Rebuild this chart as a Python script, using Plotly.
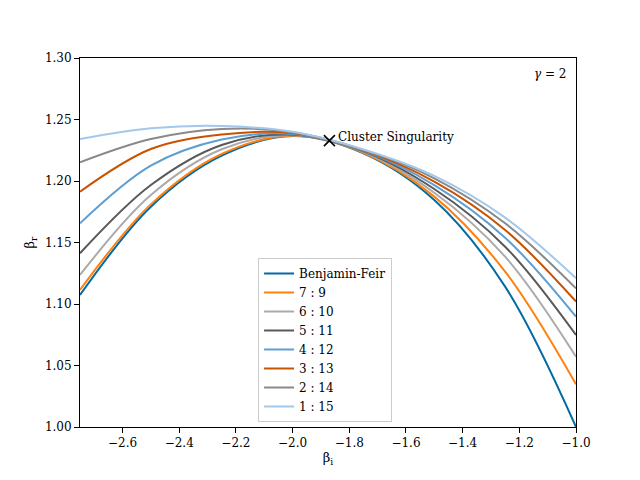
import plotly.graph_objects as go

# Evenly spaced sample positions along beta_i
beta_i = [-2.75, -2.5, -2.25, -2.0, -1.75, -1.5, -1.25, -1.0]

labels = ['Benjamin-Feir', '7 : 9', '6 : 10', '5 : 11', '4 : 12', '3 : 13', '2 : 14', '1 : 15']
colors = ['#006BA4', '#FF800E', '#ABABAB', '#595959', '#5F9ED1', '#C85200', '#898989', '#A2C8EC']

bf = [1.1073, 1.1791, 1.2206, 1.2365, 1.2225, 1.1846, 1.1141, 1.0000]
r7_9 = [1.1114, 1.1810, 1.2220, 1.2367, 1.2230, 1.1873, 1.1263, 1.0347]
r6_10 = [1.1236, 1.1886, 1.2258, 1.2372, 1.2236, 1.1905, 1.1385, 1.0572]
r5_11 = [1.1412, 1.1967, 1.2293, 1.2377, 1.2241, 1.1935, 1.1466, 1.0748]
r4_12 = [1.1656, 1.2125, 1.2337, 1.2383, 1.2245, 1.1967, 1.1539, 1.0897]
r3_13 = [1.1913, 1.2260, 1.2378, 1.2390, 1.2249, 1.1995, 1.1602, 1.1020]
r2_14 = [1.2152, 1.2341, 1.2423, 1.2396, 1.2253, 1.2022, 1.1656, 1.1127]
r1_15 = [1.2341, 1.2428, 1.2447, 1.2400, 1.2256, 1.2041, 1.1702, 1.1210]
series = [bf, r7_9, r6_10, r5_11, r4_12, r3_13, r2_14, r1_15]

singularity_x = [-1.87]
singularity_y = [1.2328]

x_ticks = [-2.6, -2.4, -2.2, -2.0, -1.8, -1.6, -1.4, -1.2, -1.0]
y_ticks = [1.00, 1.05, 1.10, 1.15, 1.20, 1.25, 1.30]

serif = 'DejaVu Serif'
fsize = 12

fig = go.Figure()
for name, ys, col in zip(labels, series, colors):
    fig.add_trace(go.Scatter(
        x=beta_i, y=ys, name=name, mode='lines',
        line=dict(color=col, width=2, shape='spline', smoothing=1.0),
    ))

fig.add_trace(go.Scatter(
    x=singularity_x, y=singularity_y, mode='markers', showlegend=False,
    marker=dict(symbol='x-thin', size=11, color='black', line=dict(color='black', width=1.6)),
))

axis_common = dict(
    showline=True, linecolor='black', linewidth=1, mirror=True,
    ticks='outside', ticklen=5, tickwidth=1, tickcolor='black',
    showgrid=False, zeroline=False,
    tickfont=dict(family=serif, size=12, color='black'),
)

# the page puts the figure 8px in from the top left, so the canvas is trimmed by that much
fig.update_layout(
    width=632, height=472,
    margin=dict(l=72, r=64, t=50, b=53),
    paper_bgcolor='white', plot_bgcolor='white',
    font=dict(family=serif, size=fsize, color='black'),
    xaxis=dict(range=[-2.75, -1.0], tickvals=x_ticks,
               ticktext=['\u2212%.1f' % abs(v) for v in x_ticks],
               title=dict(text='\u03b2<sub>i</sub>', standoff=3, font=dict(family=serif, size=13)),
               **axis_common),
    yaxis=dict(range=[1.0, 1.3], tickvals=y_ticks,
               ticktext=['%.2f' % v for v in y_ticks],
               title=dict(text='\u03b2<sub>r</sub>', standoff=7, font=dict(family=serif, size=13)),
               **axis_common),
    legend=dict(x=0.359, y=0.458, xanchor='left', yanchor='top',
                bgcolor='rgba(255,255,255,0.8)', bordercolor='#cccccc', borderwidth=1,
                font=dict(family=serif, size=fsize), tracegroupgap=0, itemwidth=30),
    annotations=[
        dict(x=singularity_x[0], y=singularity_y[0], xref='x', yref='y',
             text='Cluster Singularity', showarrow=False,
             xanchor='left', yanchor='middle', xshift=7, yshift=4,
             font=dict(family=serif, size=fsize)),
        dict(x=0.986, y=0.957, xref='paper', yref='paper',
             text='<i>\u03b3</i> = 2', showarrow=False,
             xanchor='right', yanchor='middle',
             font=dict(family=serif, size=fsize)),
    ],
)

fig.write_html('out.html')
